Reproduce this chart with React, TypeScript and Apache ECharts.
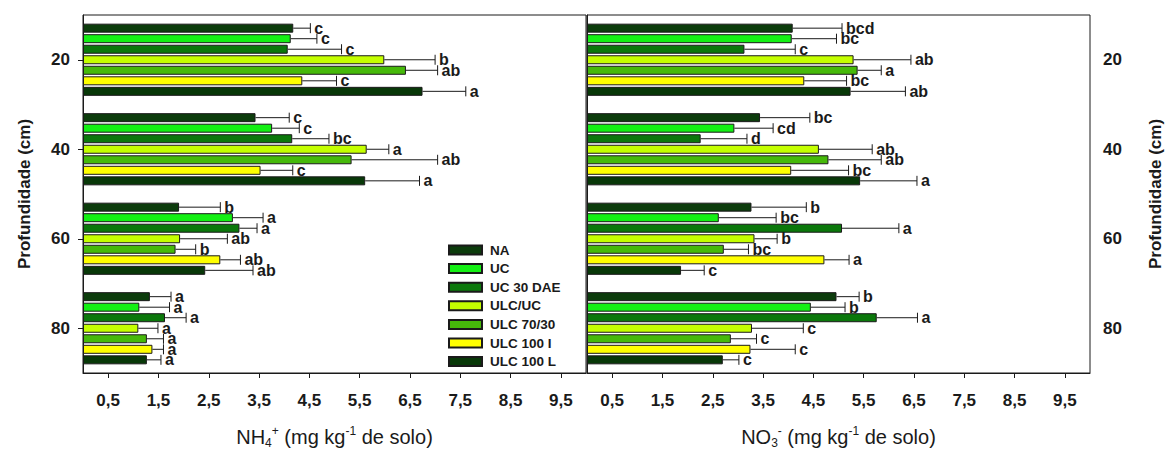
import React, { useEffect, useRef } from 'react';
import * as echarts from 'echarts';

// ---------------- data ----------------
const depths = ['20', '40', '60', '80'];
const treatments = ['NA', 'UC', 'UC 30 DAE', 'ULC/UC', 'ULC 70/30', 'ULC 100 I', 'ULC 100 L'];
const xTicks = [0.5, 1.5, 2.5, 3.5, 4.5, 5.5, 6.5, 7.5, 8.5, 9.5];

// NH4+ (mg kg-1) — per treatment, per depth (20, 40, 60, 80)
const nh4NA = [4.18, 3.43, 1.91, 1.33];
const nh4UC = [4.13, 3.76, 2.98, 1.12];
const nh4UC30 = [4.07, 4.16, 3.11, 1.63];
const nh4ULCUC = [5.99, 5.64, 1.93, 1.1];
const nh4ULC7030 = [6.42, 5.34, 1.84, 1.27];
const nh4ULC100I = [4.36, 3.53, 2.73, 1.38];
const nh4ULC100L = [6.75, 5.61, 2.43, 1.27];

const nh4ErrNA = [0.34, 0.67, 0.82, 0.42];
const nh4ErrUC = [0.52, 0.54, 0.6, 0.6];
const nh4ErrUC30 = [1.07, 0.73, 0.35, 0.42];
const nh4ErrULCUC = [1.01, 0.44, 0.94, 0.39];
const nh4ErrULC7030 = [0.63, 1.71, 0.4, 0.33];
const nh4ErrULC100I = [0.68, 0.64, 0.4, 0.22];
const nh4ErrULC100L = [0.86, 1.08, 0.95, 0.28];

const nh4LetNA = ['c', 'c', 'b', 'a'];
const nh4LetUC = ['c', 'c', 'a', 'a'];
const nh4LetUC30 = ['c', 'bc', 'a', 'a'];
const nh4LetULCUC = ['b', 'a', 'ab', 'a'];
const nh4LetULC7030 = ['ab', 'ab', 'b', 'a'];
const nh4LetULC100I = ['c', 'c', 'ab', 'a'];
const nh4LetULC100L = ['a', 'a', 'ab', 'a'];

// NO3- (mg kg-1)
const no3NA = [4.09, 3.44, 3.27, 4.96];
const no3UC = [4.07, 2.93, 2.62, 4.45];
const no3UC30 = [3.13, 2.26, 5.07, 5.76];
const no3ULCUC = [5.3, 4.61, 3.33, 3.28];
const no3ULC7030 = [5.38, 4.8, 2.72, 2.86];
const no3ULC100I = [4.32, 4.06, 4.72, 3.25];
const no3ULC100L = [5.24, 5.43, 1.87, 2.7];

const no3ErrNA = [0.98, 0.99, 1.09, 0.45];
const no3ErrUC = [0.89, 0.77, 1.14, 0.68];
const no3ErrUC30 = [1.01, 0.92, 1.13, 0.81];
const no3ErrULCUC = [1.14, 1.06, 0.45, 1.02];
const no3ErrULC7030 = [0.47, 1.05, 0.49, 0.51];
const no3ErrULC100I = [0.84, 1.14, 0.49, 0.89];
const no3ErrULC100L = [1.09, 1.13, 0.46, 0.32];

const no3LetNA = ['bcd', 'bc', 'b', 'b'];
const no3LetUC = ['bc', 'cd', 'bc', 'b'];
const no3LetUC30 = ['c', 'd', 'a', 'a'];
const no3LetULCUC = ['ab', 'ab', 'b', 'c'];
const no3LetULC7030 = ['a', 'ab', 'bc', 'c'];
const no3LetULC100I = ['bc', 'bc', 'a', 'c'];
const no3LetULC100L = ['ab', 'a', 'c', 'c'];

const nh4Means = [nh4NA, nh4UC, nh4UC30, nh4ULCUC, nh4ULC7030, nh4ULC100I, nh4ULC100L];
const nh4Errs = [nh4ErrNA, nh4ErrUC, nh4ErrUC30, nh4ErrULCUC, nh4ErrULC7030, nh4ErrULC100I, nh4ErrULC100L];
const nh4Lets = [nh4LetNA, nh4LetUC, nh4LetUC30, nh4LetULCUC, nh4LetULC7030, nh4LetULC100I, nh4LetULC100L];
const no3Means = [no3NA, no3UC, no3UC30, no3ULCUC, no3ULC7030, no3ULC100I, no3ULC100L];
const no3Errs = [no3ErrNA, no3ErrUC, no3ErrUC30, no3ErrULCUC, no3ErrULC7030, no3ErrULC100I, no3ErrULC100L];
const no3Lets = [no3LetNA, no3LetUC, no3LetUC30, no3LetULCUC, no3LetULC7030, no3LetULC100I, no3LetULC100L];

// ---------------- styles ----------------
const colors = ['#0c3c0c', '#14f014', '#0b780b', '#c4ff00', '#46b90a', '#ffff00', '#083808'];
const FONT = '"Liberation Sans", Arial, Helvetica, sans-serif';
const INK = '#1a1a1a';
const BAR_W = 9;
const BAR_GAP = 0.17;

function barOffset(i: number) {
  const step = BAR_W * (1 + BAR_GAP);
  const total = BAR_W * 7 + BAR_W * BAR_GAP * 6;
  return -total / 2 + BAR_W / 2 + i * step;
}

function buildSeries(p: number, means: number[][], errs: number[][], lets: string[][]) {
  const out: any[] = [];
  treatments.forEach((name, i) => {
    out.push({
      type: 'bar',
      name,
      xAxisIndex: p,
      yAxisIndex: p,
      data: means[i],
      barWidth: BAR_W,
      barGap: BAR_GAP * 100 + '%',
      itemStyle: { color: colors[i], borderColor: INK, borderWidth: 1 },
    });
  });
  treatments.forEach((name, i) => {
    out.push({
      type: 'custom',
      name: name + '-err-' + p,
      xAxisIndex: p,
      yAxisIndex: p,
      silent: true,
      z: 3,
      data: means[i].map((m, k) => [m, k, m + errs[i][k]]),
      encode: { x: [0, 2], y: 1 },
      renderItem: (params: any, api: any) => {
        const v = api.value(0);
        const c = api.value(1);
        const e = api.value(2);
        const p0 = api.coord([v, c]);
        const p1 = api.coord([e, c]);
        const y = p0[1] + barOffset(i);
        const letter = lets[i][params.dataIndex];
        return {
          type: 'group',
          children: [
            { type: 'line', shape: { x1: p0[0], y1: y, x2: p1[0], y2: y }, style: { stroke: INK, lineWidth: 1 } },
            { type: 'line', shape: { x1: p1[0], y1: y - 5, x2: p1[0], y2: y + 5 }, style: { stroke: INK, lineWidth: 1 } },
            {
              type: 'text',
              x: p1[0] + 4,
              y: y,
              style: {
                text: letter,
                fill: INK,
                font: 'bold 16px ' + FONT,
                textAlign: 'left',
                textVerticalAlign: 'middle',
                verticalAlign: 'middle',
              },
            },
          ],
        };
      },
    });
  });
  return out;
}

const richName = {
  n: { fontSize: 20, fontFamily: FONT, color: INK, lineHeight: 24 },
  sub: { fontSize: 12, fontFamily: FONT, color: INK, lineHeight: 12, verticalAlign: 'bottom' },
  sup: { fontSize: 12, fontFamily: FONT, color: INK, lineHeight: 12, verticalAlign: 'top' },
};

function xAxis(p: number, name: string) {
  return {
    type: 'value',
    gridIndex: p,
    min: 0,
    max: 10,
    axisLine: { show: true, lineStyle: { color: INK, width: 1 } },
    axisTick: { show: true, length: 5, customValues: xTicks, lineStyle: { color: INK } },
    axisLabel: {
      customValues: xTicks,
      formatter: (v: number) => String(v).replace('.', ','),
      fontSize: 17,
      fontWeight: 'bold',
      fontFamily: FONT,
      color: INK,
      margin: 19,
    },
    splitLine: { show: false },
    name,
    nameLocation: 'middle',
    nameGap: 52,
    nameTextStyle: { rich: richName, fontSize: 20, fontFamily: FONT, color: INK },
  };
}

function yAxis(p: number) {
  return {
    type: 'category',
    gridIndex: p,
    data: depths,
    inverse: true,
    position: p === 0 ? 'left' : 'right',
    axisLine: { show: true, lineStyle: { color: INK, width: 1 } },
    axisTick: { show: true, alignWithLabel: true, length: 5, lineStyle: { color: INK } },
    axisLabel: { fontSize: 17, fontWeight: 'bold', fontFamily: FONT, color: INK, margin: 13 },
    name: 'Profundidade (cm)',
    nameLocation: 'middle',
    nameGap: p === 0 ? 50 : 57,
    nameRotate: 90,
    nameTextStyle: { fontSize: 17, fontWeight: 'bold', fontFamily: FONT, color: INK },
  };
}

export default function App() {
  const ref = useRef<HTMLDivElement>(null);
  useEffect(() => {
    if (!ref.current) return;
    const chart = echarts.init(ref.current, undefined, { renderer: 'svg' });
    chart.setOption({
      animation: false,
      backgroundColor: '#ffffff',
      grid: [
        { left: 83, top: 15, width: 503, height: 368, show: true, borderColor: INK, borderWidth: 1, backgroundColor: 'transparent', containLabel: false },
        { left: 587, top: 15, width: 504, height: 368, show: true, borderColor: INK, borderWidth: 1, backgroundColor: 'transparent', containLabel: false },
      ],
      xAxis: [
        xAxis(0, '{n|NH}{sub|4}{sup|+}{n| (mg kg}{sup|-1}{n| de solo)}'),
        xAxis(1, '{n|NO}{sub|3}{sup|-}{n| (mg kg}{sup|-1}{n| de solo)}'),
      ],
      yAxis: [yAxis(0), yAxis(1)],
      legend: {
        data: treatments,
        orient: 'vertical',
        left: 443,
        top: 238,
        itemWidth: 33,
        itemHeight: 9,
        itemGap: 4.6,
        icon: 'rect',
        selectedMode: false,
        textStyle: { fontSize: 13.5, fontWeight: 'bold', fontFamily: FONT, color: INK, lineHeight: 14, padding: [0, 0, 0, 3] },
      },
      series: [
        ...buildSeries(0, nh4Means, nh4Errs, nh4Lets),
        ...buildSeries(1, no3Means, no3Errs, no3Lets),
      ],
    });
    return () => chart.dispose();
  }, []);
  return <div ref={ref} style={{ position: 'fixed', left: 0, top: 0, width: 1165, height: 454 }} />;
}
